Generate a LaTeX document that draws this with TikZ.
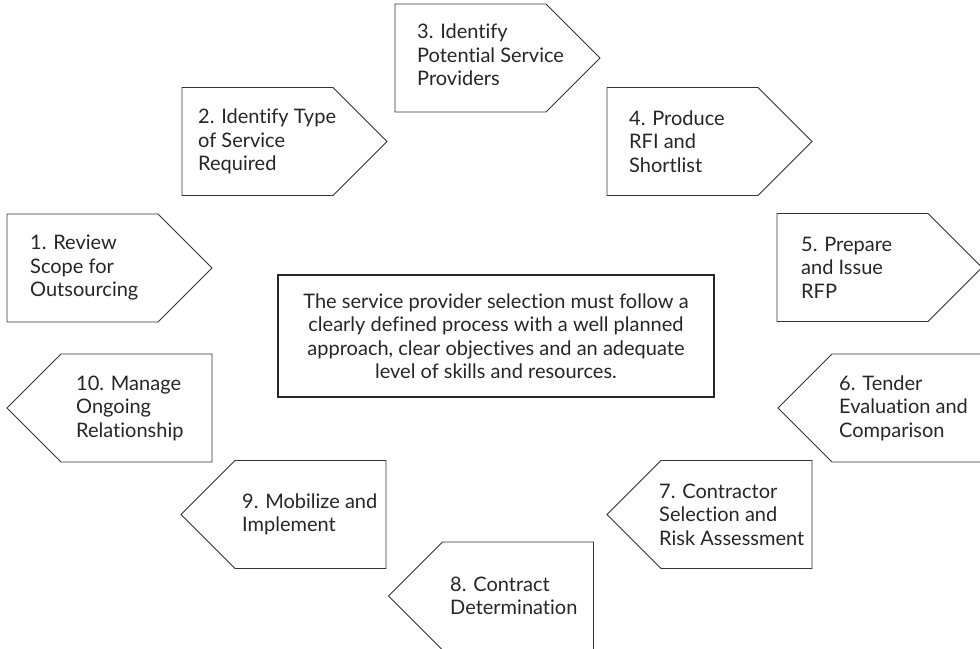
\documentclass[tikz,border=0pt]{standalone}
\usepackage{fontspec}
\setmainfont{Lato}[Ligatures=NoCommon]
\usetikzlibrary{shapes.symbols,positioning}

\begin{document}
\begin{tikzpicture}[x=1pt, y=-1pt,
  stepshape/.style={
    draw=black!80, line width=0.9pt, signal, signal pointer angle=90,
    minimum width=205pt, minimum height=108pt, inner sep=0pt
  },
  steptext/.style={
    anchor=west, align=left, inner sep=0pt, text=black!85,
    font=\fontsize{20}{23.5}\selectfont
  },
  notebox/.style={
    draw=black!85, line width=1.8pt, rectangle,
    minimum width=436pt, minimum height=122pt,
    align=center, text=black!85, font=\fontsize{20}{23.5}\selectfont
  }
]
\useasboundingbox (0,0) rectangle (980,648);

% steps pointing right
\node[stepshape, signal to=east] (s1) at (82.5,268) {};
\node[stepshape, signal to=east] (s2) at (257.5,141.5) {};
\node[stepshape, signal to=east] (s3) at (470.5,58) {};
\node[stepshape, signal to=east] (s4) at (682.5,141.5) {};
\node[stepshape, signal to=east] (s5) at (852.5,267.5) {};
% steps pointing left
\node[stepshape, signal to=west] (s6) at (907.5,408) {};
\node[stepshape, signal to=west] (s7) at (736.5,514.5) {};
\node[stepshape, signal to=west] (s8) at (518,596) {};
\node[stepshape, signal to=west] (s9) at (310.5,514.5) {};
\node[stepshape, signal to=west] (s10) at (136.5,408) {};

\node[steptext] (t1) at ([xshift=-52.5]s1.center) {1. Review\\Scope for\\Outsourcing};
\node[steptext] (t2) at ([xshift=-59.5]s2.center) {2. Identify Type\\of Service\\Required};
\node[steptext] (t3) at ([xshift=-53.5,yshift=3]s3.center) {3. Identify\\Potential Service\\Providers};
\node[steptext] (t4) at ([xshift=-53.5]s4.center) {4. Produce\\RFI and\\Shortlist};
\node[steptext] (t5) at ([xshift=-51.5]s5.center) {5. Prepare\\and Issue\\RFP};
\node[steptext] (t6) at ([xshift=-68.5]s6.center) {6. Tender\\Evaluation and\\Comparison};
\node[steptext] (t7) at ([xshift=-77.5]s7.center) {7. Contractor\\Selection and\\Risk Assessment};
\node[steptext] (t8) at ([xshift=-68]s8.center) {8. Contract\\Determination};
\node[steptext] (t9) at ([xshift=-68.5]s9.center) {9. Mobilize and\\Implement};
\node[steptext] (t10) at ([xshift=-60.5]s10.center) {10. Manage\\Ongoing\\Relationship};

\node[notebox] (note) at (496,336) {The service provider selection must follow a\\clearly defined process with a well planned\\approach, clear objectives and an adequate\\level of skills and resources.};

\end{tikzpicture}
\end{document}
